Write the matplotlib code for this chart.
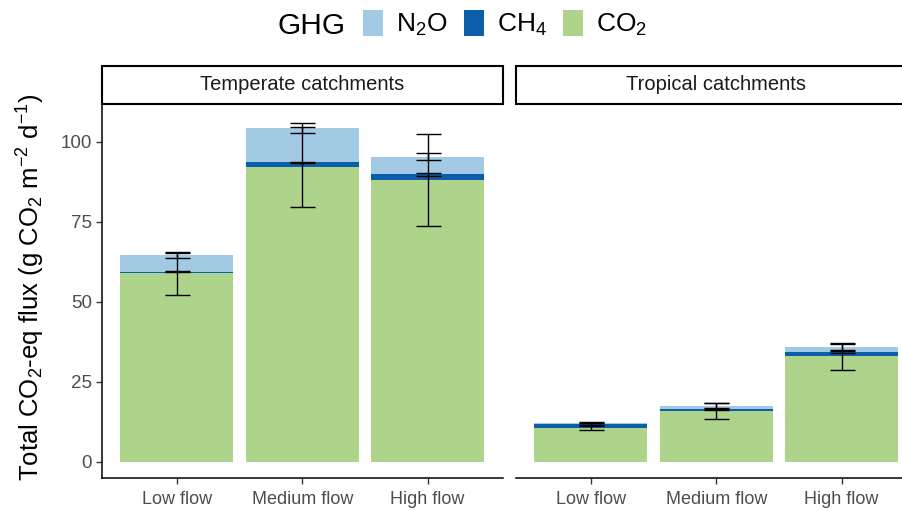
import matplotlib
matplotlib.use("Agg")
import matplotlib.pyplot as plt
from matplotlib.patches import Patch, Rectangle
import numpy as np

plt.rcParams['font.family'] = ['Liberation Sans', 'DejaVu Sans']
plt.rcParams['mathtext.fontset'] = 'custom'
plt.rcParams['mathtext.rm'] = 'Liberation Sans'
plt.rcParams['mathtext.it'] = 'Liberation Sans:italic'
plt.rcParams['mathtext.bf'] = 'Liberation Sans:bold'

# ---- data ----
flows = ["Low flow", "Medium flow", "High flow"]
panels = ["Temperate catchments", "Tropical catchments"]

temp_co2 = [58.9, 92.0, 88.0]
temp_ch4 = [0.5, 1.6, 1.8]
temp_n2o = [5.1, 10.7, 5.5]
temp_co2_sd = [6.7, 12.5, 14.4]
temp_ch4_sd = [0.2, 0.15, 0.4]
temp_n2o_sd = [0.8, 1.7, 1.05]

trop_co2 = [10.4, 15.8, 32.9]
trop_ch4 = [1.4, 0.8, 1.4]
trop_n2o = [0.4, 0.8, 1.6]
trop_co2_sd = [0.6, 2.5, 4.3]
trop_ch4_sd = [0.4, 0.3, 0.4]
trop_n2o_sd = [0.15, 1.0, 1.0]

gases = ["N2O", "CH4", "CO2"]
gas_labels = ["N$_\\mathregular{2}$O", "CH$_\\mathregular{4}$", "CO$_\\mathregular{2}$"]
colors = {"N2O": "#A3CAE4", "CH4": "#0B5EA9", "CO2": "#AED38A"}

W, H = 903, 511
fig = plt.figure(figsize=(W / 100, H / 100), dpi=100)

def fx(px):
    return px / W

def fy(py):
    return 1 - py / H

ax_left_px = [101.7, 515.7]
ax_w_px = 401
top_px, bot_px = 104, 478
strip_top = 66

data = [
    (temp_co2, temp_ch4, temp_n2o, temp_co2_sd, temp_ch4_sd, temp_n2o_sd),
    (trop_co2, trop_ch4, trop_n2o, trop_co2_sd, trop_ch4_sd, trop_n2o_sd),
]

tick_color = "#4D4D4D"
axes = []
for i, (co2, ch4, n2o, sco2, sch4, sn2o) in enumerate(data):
    ax = fig.add_axes([fx(ax_left_px[i]), fy(bot_px), ax_w_px / W, (bot_px - top_px) / H])
    axes.append(ax)
    x = np.arange(len(flows))
    co2 = np.array(co2); ch4 = np.array(ch4); n2o = np.array(n2o)
    ax.bar(x, co2, width=0.9, color=colors["CO2"], linewidth=0)
    ax.bar(x, ch4, width=0.9, bottom=co2, color=colors["CH4"], linewidth=0)
    ax.bar(x, n2o, width=0.9, bottom=co2 + ch4, color=colors["N2O"], linewidth=0)
    tops = [co2, co2 + ch4, co2 + ch4 + n2o]
    sds = [np.array(sco2), np.array(sch4), np.array(sn2o)]
    for t, s in zip(tops, sds):
        ax.errorbar(x, t, yerr=s, fmt='none', ecolor='black', elinewidth=1.0,
                    capsize=9, capthick=1.0, zorder=5)
    ax.set_xlim(-0.6, 2.6)
    ax.set_ylim(-5.1, 111.8)
    ax.set_xticks(x)
    ax.set_xticklabels(flows, fontsize=13, color=tick_color)
    ax.set_yticks([0, 25, 50, 75, 100])
    ax.tick_params(axis='both', length=4, width=1.0, color="#333333", pad=3)
    ax.tick_params(axis='x', pad=5)
    for sp in ["top", "right"]:
        ax.spines[sp].set_visible(False)
    ax.spines["bottom"].set_linewidth(1.1)
    ax.spines["left"].set_linewidth(1.1)
    if i == 0:
        ax.set_yticklabels(["0", "25", "50", "75", "100"], fontsize=13.5, color=tick_color)
    else:
        ax.spines["left"].set_visible(False)
        ax.tick_params(axis='y', left=False, labelleft=False)
    ax.patch.set_visible(False)

    # strip
    r = Rectangle((fx(ax_left_px[i]), fy(top_px)), ax_w_px / W, (top_px - strip_top) / H,
                  transform=fig.transFigure, facecolor="white", edgecolor="black",
                  linewidth=1.5, clip_on=False)
    fig.add_artist(r)
    fig.text(fx(ax_left_px[i] + ax_w_px / 2), fy((top_px + strip_top) / 2), panels[i],
             ha='center', va='center', fontsize=14.5, color="#1A1A1A")

fig.text(fx(31), fy(287),
         "Total CO$_\\mathregular{2}$-eq flux (g CO$_\\mathregular{2}$ m$^\\mathregular{-2}$ d$^\\mathregular{-1}$)",
         rotation=90, ha='center', va='center', fontsize=18.5, color="black")

# legend
fig.text(fx(278), fy(26), "GHG", ha='left', va='center', fontsize=21.5, color="black")
handles = [Patch(facecolor=colors[g], edgecolor='none') for g in gases]
fig.legend(handles, gas_labels, ncol=3, loc='center left',
           bbox_to_anchor=(fx(363), fy(24)), frameon=False, fontsize=19,
           handlelength=0.76, handleheight=1.14, handletextpad=0.5,
           columnspacing=0.6, borderpad=0, borderaxespad=0)

fig.savefig("out.png", dpi=100)
